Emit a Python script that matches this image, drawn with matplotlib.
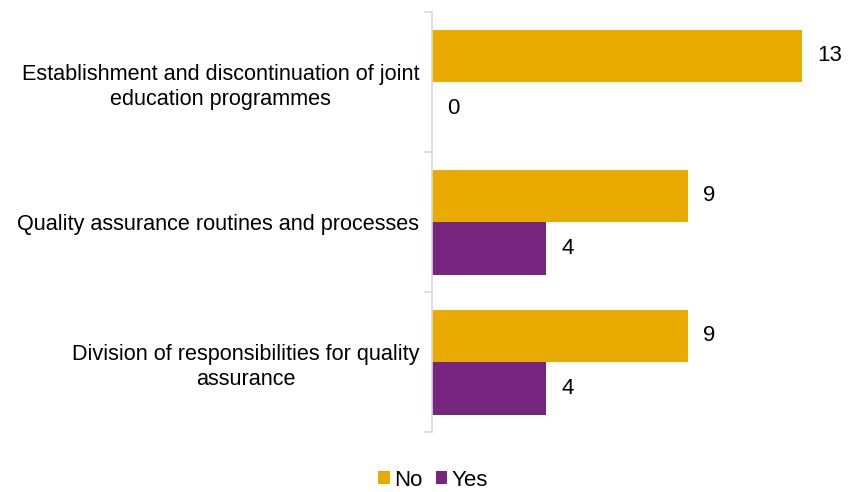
import matplotlib.pyplot as plt
import numpy as np

plt.rcParams['font.family'] = ['Liberation Sans', 'DejaVu Sans']

categories = ["Establishment and discontinuation of joint\neducation programmes",
              "Quality assurance routines and processes",
              "Division of responsibilities for quality\nassurance"]
no_vals = [13, 9, 9]
yes_vals = [0, 4, 4]

gold = "#E9AB00"
purple = "#76267F"
fs = 16

fig = plt.figure(figsize=(8.5, 4.92), dpi=100)
ax = fig.add_axes([432/850, 60/492, 398/850, 420/492])

y = np.arange(len(categories))
h = 0.375
b1 = ax.barh(y - h/2, no_vals, height=h, color=gold, label="No")
b2 = ax.barh(y + h/2, yes_vals, height=h, color=purple, label="Yes")

for bars in (b1, b2):
    for rect in bars:
        w = rect.get_width()
        ax.annotate(str(int(w)), (w, rect.get_y() + rect.get_height()/2),
                    xytext=(11, 0), textcoords="offset points", ha="left",
                    va="center", fontsize=fs, color="#000000")

ax.set_xlim(0, 398/28.46)
ax.set_ylim(2.5, -0.5)

ax.set_yticks(y)
ax.set_yticklabels(categories, fontsize=15.6, multialignment="center",
                   linespacing=1.25)
ax.tick_params(axis="y", which="major", length=0, pad=9)
ax.set_yticks([-0.5, 0.5, 1.5, 2.5], minor=True)
ax.tick_params(axis="y", which="minor", length=6, color="#D9D9D9", width=1.2)
ax.set_xticks([])

for s in ("top", "right", "bottom"):
    ax.spines[s].set_visible(False)
ax.spines["left"].set_color("#D9D9D9")
ax.spines["left"].set_linewidth(1.2)

fig.legend(loc="center", bbox_to_anchor=(433/850, 1 - 480/492), ncol=2,
           frameon=False, fontsize=fs, handlelength=0.5, handleheight=0.5,
           handletextpad=0.2, columnspacing=0.6)

fig.savefig("out.png", dpi=100)
